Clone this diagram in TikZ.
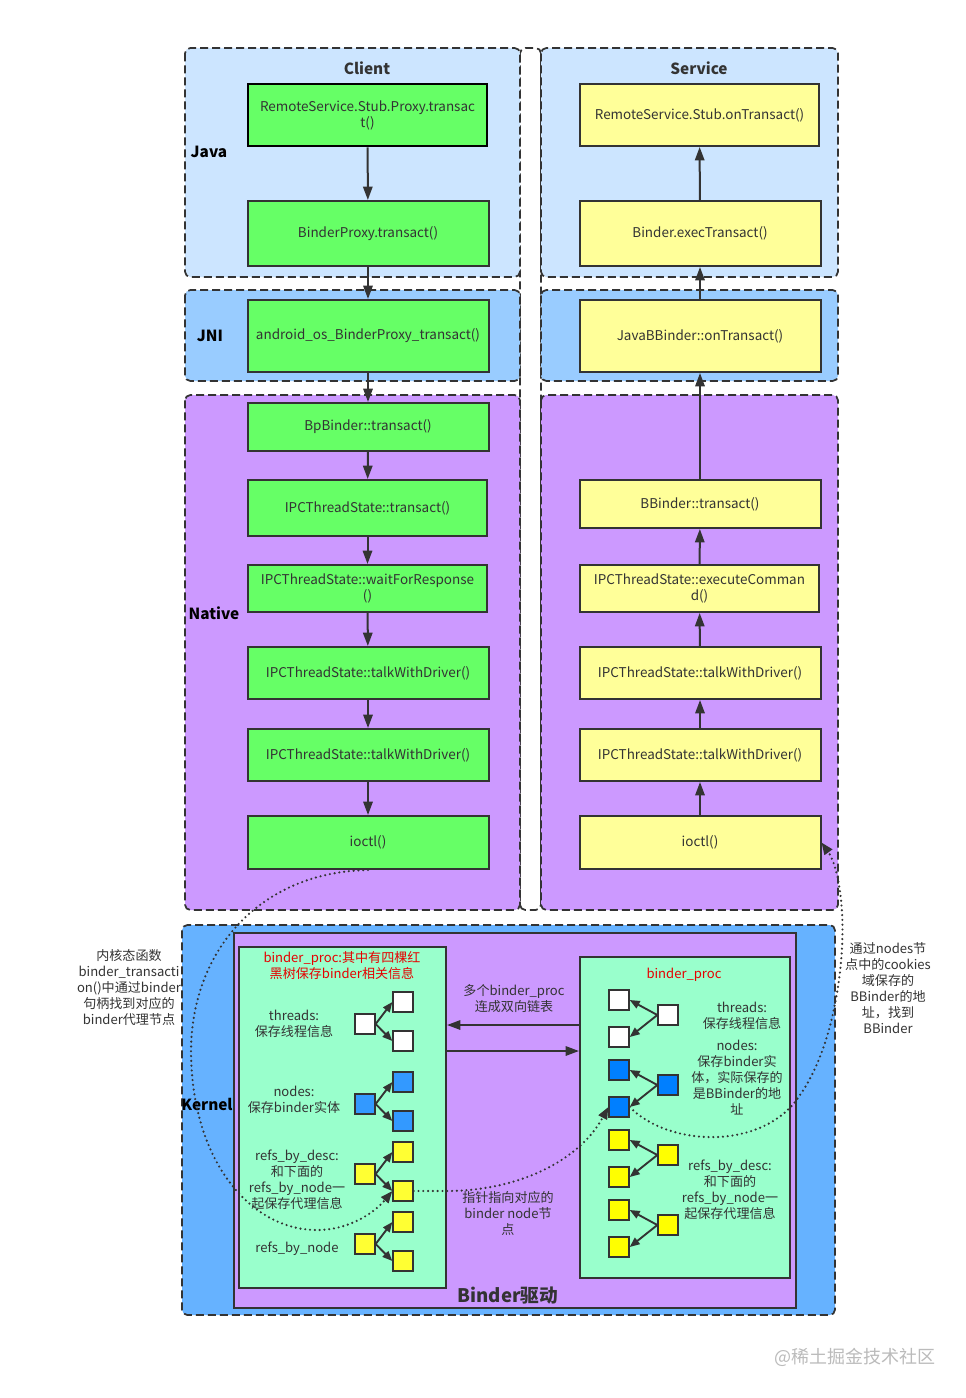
\documentclass[tikz,border=0pt]{standalone}
\usepackage{fontspec}
\setmainfont{Noto Sans CJK SC}
\usetikzlibrary{arrows.meta}
\definecolor{linecol}{HTML}{333333}
\definecolor{txtcol}{HTML}{333333}
\definecolor{lblue}{HTML}{CCE5FF}
\definecolor{jnicol}{HTML}{99CCFF}
\definecolor{nativecol}{HTML}{CC99FF}
\definecolor{kerncol}{HTML}{66B2FF}
\definecolor{gnode}{HTML}{66FF66}
\definecolor{ynode}{HTML}{FFFF99}
\definecolor{mint}{HTML}{99FFCC}
\definecolor{sqblueL}{HTML}{3399FF}
\definecolor{sqblueR}{HTML}{007FFF}
\definecolor{sqyelL}{HTML}{FFFF33}
\definecolor{sqyelR}{HTML}{FFFF00}
\definecolor{redtxt}{HTML}{E60000}
\definecolor{wmark}{HTML}{BBBBBB}
\begin{document}
\begin{tikzpicture}[x=0.75pt,y=-0.75pt,
  region/.style={draw=linecol, line width=1.3pt, dash pattern=on 6pt off 3pt, rounded corners=4pt},
  fbox/.style={draw=linecol, line width=1.5pt, inner sep=2pt, align=center, text=txtcol,
     font=\fontsize{10.1}{12}\selectfont},
  gbox/.style={fbox, fill=gnode, minimum width=180.75pt},
  ybox/.style={fbox, fill=ynode, minimum width=180.75pt},
  flow/.style={draw=linecol, line width=1.5pt, -{Triangle[length=10pt,width=7pt]}},
  title/.style={font=\fontsize{11.5}{13}\selectfont\bfseries, text=txtcol},
  layer/.style={font=\fontsize{11.5}{13}\selectfont\bfseries, text=black},
  lbl/.style={align=center, text=txtcol, font=\fontsize{9.8}{12}\selectfont, inner sep=0pt},
  sq/.style={draw=linecol, line width=1.5pt, minimum size=14.5pt, inner sep=0pt},
  sqa/.style={draw=linecol, line width=1.4pt, -{Triangle[length=7.5pt,width=6pt]}},
  dots/.style={draw=linecol, line width=1.8pt, line cap=round, dash pattern=on 0pt off 3.6pt},
  dotarrow/.style={dots, -{Triangle[length=9pt,width=7pt]}},
]
\path[use as bounding box] (0,0) rectangle (965,1398);
\fill[white] (0,0) rectangle (965,1398);

% ---------- upper regions ----------
\draw[region, fill=white] (520,48) rectangle (541,910);
\draw[region, fill=lblue] (185,48) rectangle (520,277);
\draw[region, fill=lblue] (541,48) rectangle (838,277);
\draw[region, fill=jnicol] (185,290) rectangle (520,381);
\draw[region, fill=jnicol] (541,290) rectangle (838,381);
\draw[region, fill=nativecol] (185,395) rectangle (520,910);
\draw[region, fill=nativecol] (541,395) rectangle (838,910);

\node[title] (tclient) at (367,68) {Client};
\node[title] (tservice) at (699,68) {Service};
\node[layer] (ljava) at (209,152) {Java};
\node[layer] (ljni) at (210,336) {JNI};
\node[layer] (lnative) at (214,613) {Native};

% ---------- client nodes ----------
\node[gbox, draw=black, line width=2pt, minimum width=179.25pt, minimum height=46.5pt] (c1) at (367.5,115) {RemoteService.Stub.Proxy.transac\\t()};
\node[gbox, minimum height=48.75pt] (c2) at (368,233.5) {BinderProxy.transact()};
\node[gbox, minimum height=54pt] (c3) at (368,336) {android\_os\_BinderProxy\_transact()};
\node[gbox, minimum height=36pt] (c4) at (368,427) {BpBinder::transact()};
\node[gbox, minimum width=179.25pt, minimum height=42pt] (c5) at (367.5,508) {IPCThreadState::transact()};
\node[gbox, minimum width=179.25pt, minimum height=35.25pt] (c6) at (367.5,588.5) {IPCThreadState::waitForResponse\\()};
\node[gbox, minimum height=39pt] (c7) at (368,673) {IPCThreadState::talkWithDriver()};
\node[gbox, minimum height=39pt] (c8) at (368,755) {IPCThreadState::talkWithDriver()};
\node[gbox, minimum height=39.75pt] (c9) at (368,842.5) {ioctl()};

% ---------- service nodes ----------
\node[ybox, minimum width=179.25pt, minimum height=46.5pt] (s1) at (699.5,115) {RemoteService.Stub.onTransact()};
\node[ybox, minimum height=48.75pt] (s2) at (700,233.5) {Binder.execTransact()};
\node[ybox, minimum height=54pt] (s3) at (700,336) {JavaBBinder::onTransact()};
\node[ybox, minimum height=36pt] (s4) at (700,504) {BBinder::transact()};
\node[ybox, minimum width=179.25pt, minimum height=35.25pt] (s5) at (699.5,588.5) {IPCThreadState::executeComman\\d()};
\node[ybox, minimum height=39pt] (s6) at (700,673) {IPCThreadState::talkWithDriver()};
\node[ybox, minimum height=39pt] (s7) at (700,755) {IPCThreadState::talkWithDriver()};
\node[ybox, minimum height=39.75pt] (s8) at (700,842.5) {ioctl()};

\foreach \a/\b in {c1/c2,c2/c3,c3/c4,c4/c5,c5/c6,c6/c7,c7/c8,c8/c9,
                   s8/s7,s7/s6,s6/s5,s5/s4,s4/s3,s3/s2,s2/s1}
  \draw[flow] (\a) -- (\b);

% ---------- side annotations ----------
\node[lbl] (annL) at (129,988) {内核态函数\\binder\_transacti\\on()中通过binder\\句柄找到对应的\\binder代理节点};
\node[lbl] (annR) at (888,988) {通过nodes节\\点中的cookies\\域保存的\\BBinder的地\\址，找到\\BBinder};

% ---------- kernel ----------
\draw[region, fill=kerncol] (182,925) rectangle (835,1315);
\node[draw=linecol, line width=1.5pt, fill=nativecol, minimum width=421.5pt, minimum height=281.25pt] (drv) at (515,1120.5) {};
\node[layer] (lkernel) at (207,1104) {Kernel};
\node[font=\fontsize{14}{16}\selectfont\bfseries, text=txtcol] (ldrv) at (508,1296) {Binder驱动};

\node[draw=linecol, line width=1.5pt, fill=mint, minimum width=155.25pt, minimum height=255.75pt] (lbox) at (342.5,1117.5) {};
\node[draw=linecol, line width=1.5pt, fill=mint, minimum width=157.5pt, minimum height=240.75pt] (rbox) at (685,1117.5) {};

% left box content
\node[lbl, text=redtxt] (ltitle) at (342,966) {binder\_proc:其中有四棵红\\黑树保存binder相关信息};
\node[lbl] (lthr) at (294,1024) {threads:\\保存线程信息};
\node[lbl] (lnod) at (294,1100) {nodes:\\保存binder实体};
\node[lbl] (lref) at (297,1180) {refs\_by\_desc:\\和下面的\\refs\_by\_node一\\起保存代理信息};
\node[lbl] (lrefn) at (297,1249) {refs\_by\_node};

\node[sq, fill=white] (lw0) at (365,1024) {};
\node[sq, fill=white] (lw1) at (403,1002) {};
\node[sq, fill=white] (lw2) at (403,1041) {};
\node[sq, fill=sqblueL] (lb0) at (365,1104) {};
\node[sq, fill=sqblueL] (lb1) at (403,1082) {};
\node[sq, fill=sqblueL] (lb2) at (403,1121) {};
\node[sq, fill=sqyelL] (ly0) at (365,1174) {};
\node[sq, fill=sqyelL] (ly1) at (403,1152) {};
\node[sq, fill=sqyelL] (ly2) at (403,1191) {};
\node[sq, fill=sqyelL] (lz0) at (365,1244) {};
\node[sq, fill=sqyelL] (lz1) at (403,1222) {};
\node[sq, fill=sqyelL] (lz2) at (403,1261) {};
\foreach \r/\c in {lw0/lw1,lw0/lw2,lb0/lb1,lb0/lb2,ly0/ly1,ly0/ly2,lz0/lz1,lz0/lz2}
  \draw[sqa] (\r.east) -- (\c.west);

% right box content
\node[lbl, text=redtxt] (rtitle) at (684,975) {binder\_proc};
\node[lbl] (rthr) at (742,1016) {threads:\\保存线程信息};
\node[lbl] (rnod) at (737,1078) {nodes:\\保存binder实\\体，实际保存的\\是BBinder的地\\址};
\node[lbl] (rref) at (730,1190) {refs\_by\_desc:\\和下面的\\refs\_by\_node一\\起保存代理信息};

\node[sq, fill=white] (rw0) at (668,1015) {};
\node[sq, fill=white] (rw1) at (619,1000) {};
\node[sq, fill=white] (rw2) at (619,1037) {};
\node[sq, fill=sqblueR] (rb0) at (668,1085) {};
\node[sq, fill=sqblueR] (rb1) at (619,1070) {};
\node[sq, fill=sqblueR] (rb2) at (619,1107) {};
\node[sq, fill=sqyelR] (ry0) at (668,1155) {};
\node[sq, fill=sqyelR] (ry1) at (619,1140) {};
\node[sq, fill=sqyelR] (ry2) at (619,1177) {};
\node[sq, fill=sqyelR] (rz0) at (668,1225) {};
\node[sq, fill=sqyelR] (rz1) at (619,1210) {};
\node[sq, fill=sqyelR] (rz2) at (619,1247) {};
\foreach \r/\c in {rw0/rw1,rw0/rw2,rb0/rb1,rb0/rb2,ry0/ry1,ry0/ry2,rz0/rz1,rz0/rz2}
  \draw[sqa] (\r.west) -- (\c.east);

% middle links
\coordinate (m1) at (500,1025);
\coordinate (m2) at (500,1051);
\draw[flow] (rbox.west |- m1) -- (lbox.east |- m1);
\draw[flow] (lbox.east |- m2) -- (rbox.west |- m2);
\node[lbl] (mlist) at (514,999) {多个binder\_proc\\连成双向链表};
\node[lbl] (mptr) at (508,1213) {指针指向对应的\\binder node节\\点};

% ---------- dotted curves ----------
\draw[dotarrow] (c9.south) .. controls (260,872) and (192,950) .. (191,1050)
   .. controls (191,1160) and (250,1230) .. (317,1230)
   .. controls (350,1230) and (375,1212) .. (ly2.west);
\coordinate (d2) at (450,1191);
\draw[dotarrow] (ly2.east) -- (d2) .. controls (520,1190) and (580,1160) .. (rb2.west);
\draw[dotarrow] (rb2.east) .. controls (670,1148) and (765,1150) .. (800,1095)
   .. controls (835,1045) and (845,960) .. (842,912)
   .. controls (840,880) and (834,860) .. (s8.east);

% watermark
\node[font=\fontsize{13.5}{15}\selectfont, text=wmark] (wm) at (855,1357) {@稀土掘金技术社区};
\end{tikzpicture}
\end{document}
